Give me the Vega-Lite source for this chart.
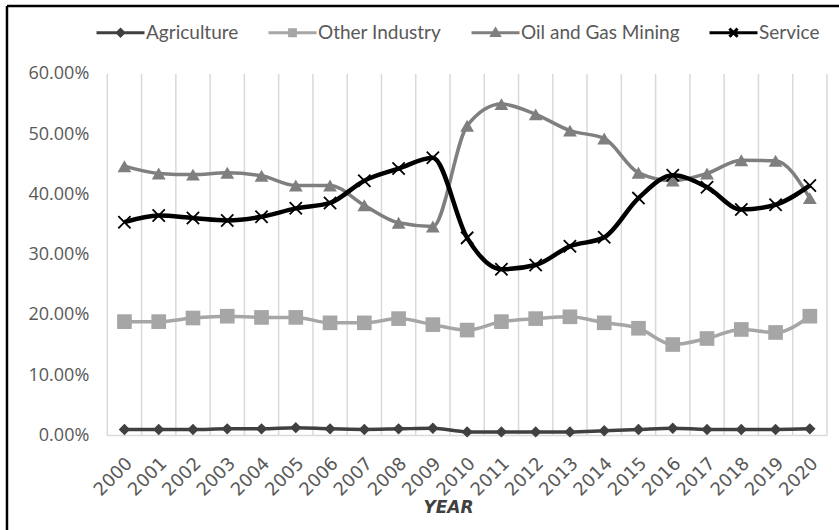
{
  "$schema": "https://vega.github.io/schema/vega-lite/v6.json",
  "width": 839,
  "height": 530,
  "autosize": {"type": "none"},
  "padding": 0,
  "background": "white",
  "config": {"view": {"stroke": null}},
  "datasets": {
    "d": [
      {"year": 2000, "series": "Agriculture", "value": 0.010},
      {"year": 2001, "series": "Agriculture", "value": 0.010},
      {"year": 2002, "series": "Agriculture", "value": 0.010},
      {"year": 2003, "series": "Agriculture", "value": 0.011},
      {"year": 2004, "series": "Agriculture", "value": 0.011},
      {"year": 2005, "series": "Agriculture", "value": 0.013},
      {"year": 2006, "series": "Agriculture", "value": 0.011},
      {"year": 2007, "series": "Agriculture", "value": 0.010},
      {"year": 2008, "series": "Agriculture", "value": 0.011},
      {"year": 2009, "series": "Agriculture", "value": 0.012},
      {"year": 2010, "series": "Agriculture", "value": 0.006},
      {"year": 2011, "series": "Agriculture", "value": 0.006},
      {"year": 2012, "series": "Agriculture", "value": 0.006},
      {"year": 2013, "series": "Agriculture", "value": 0.006},
      {"year": 2014, "series": "Agriculture", "value": 0.008},
      {"year": 2015, "series": "Agriculture", "value": 0.010},
      {"year": 2016, "series": "Agriculture", "value": 0.012},
      {"year": 2017, "series": "Agriculture", "value": 0.010},
      {"year": 2018, "series": "Agriculture", "value": 0.010},
      {"year": 2019, "series": "Agriculture", "value": 0.010},
      {"year": 2020, "series": "Agriculture", "value": 0.011},
      {"year": 2000, "series": "Other Industry", "value": 0.189},
      {"year": 2001, "series": "Other Industry", "value": 0.189},
      {"year": 2002, "series": "Other Industry", "value": 0.195},
      {"year": 2003, "series": "Other Industry", "value": 0.198},
      {"year": 2004, "series": "Other Industry", "value": 0.196},
      {"year": 2005, "series": "Other Industry", "value": 0.196},
      {"year": 2006, "series": "Other Industry", "value": 0.187},
      {"year": 2007, "series": "Other Industry", "value": 0.187},
      {"year": 2008, "series": "Other Industry", "value": 0.194},
      {"year": 2009, "series": "Other Industry", "value": 0.184},
      {"year": 2010, "series": "Other Industry", "value": 0.175},
      {"year": 2011, "series": "Other Industry", "value": 0.189},
      {"year": 2012, "series": "Other Industry", "value": 0.194},
      {"year": 2013, "series": "Other Industry", "value": 0.197},
      {"year": 2014, "series": "Other Industry", "value": 0.187},
      {"year": 2015, "series": "Other Industry", "value": 0.178},
      {"year": 2016, "series": "Other Industry", "value": 0.151},
      {"year": 2017, "series": "Other Industry", "value": 0.161},
      {"year": 2018, "series": "Other Industry", "value": 0.176},
      {"year": 2019, "series": "Other Industry", "value": 0.171},
      {"year": 2020, "series": "Other Industry", "value": 0.198},
      {"year": 2000, "series": "Oil and Gas Mining", "value": 0.447},
      {"year": 2001, "series": "Oil and Gas Mining", "value": 0.435},
      {"year": 2002, "series": "Oil and Gas Mining", "value": 0.433},
      {"year": 2003, "series": "Oil and Gas Mining", "value": 0.436},
      {"year": 2004, "series": "Oil and Gas Mining", "value": 0.431},
      {"year": 2005, "series": "Oil and Gas Mining", "value": 0.415},
      {"year": 2006, "series": "Oil and Gas Mining", "value": 0.415},
      {"year": 2007, "series": "Oil and Gas Mining", "value": 0.382},
      {"year": 2008, "series": "Oil and Gas Mining", "value": 0.353},
      {"year": 2009, "series": "Oil and Gas Mining", "value": 0.347},
      {"year": 2010, "series": "Oil and Gas Mining", "value": 0.514},
      {"year": 2011, "series": "Oil and Gas Mining", "value": 0.550},
      {"year": 2012, "series": "Oil and Gas Mining", "value": 0.533},
      {"year": 2013, "series": "Oil and Gas Mining", "value": 0.506},
      {"year": 2014, "series": "Oil and Gas Mining", "value": 0.493},
      {"year": 2015, "series": "Oil and Gas Mining", "value": 0.436},
      {"year": 2016, "series": "Oil and Gas Mining", "value": 0.423},
      {"year": 2017, "series": "Oil and Gas Mining", "value": 0.435},
      {"year": 2018, "series": "Oil and Gas Mining", "value": 0.457},
      {"year": 2019, "series": "Oil and Gas Mining", "value": 0.456},
      {"year": 2020, "series": "Oil and Gas Mining", "value": 0.394},
      {"year": 2000, "series": "Service", "value": 0.354},
      {"year": 2001, "series": "Service", "value": 0.365},
      {"year": 2002, "series": "Service", "value": 0.361},
      {"year": 2003, "series": "Service", "value": 0.357},
      {"year": 2004, "series": "Service", "value": 0.363},
      {"year": 2005, "series": "Service", "value": 0.377},
      {"year": 2006, "series": "Service", "value": 0.386},
      {"year": 2007, "series": "Service", "value": 0.423},
      {"year": 2008, "series": "Service", "value": 0.443},
      {"year": 2009, "series": "Service", "value": 0.461},
      {"year": 2010, "series": "Service", "value": 0.328},
      {"year": 2011, "series": "Service", "value": 0.276},
      {"year": 2012, "series": "Service", "value": 0.283},
      {"year": 2013, "series": "Service", "value": 0.314},
      {"year": 2014, "series": "Service", "value": 0.329},
      {"year": 2015, "series": "Service", "value": 0.394},
      {"year": 2016, "series": "Service", "value": 0.432},
      {"year": 2017, "series": "Service", "value": 0.412},
      {"year": 2018, "series": "Service", "value": 0.375},
      {"year": 2019, "series": "Service", "value": 0.383},
      {"year": 2020, "series": "Service", "value": 0.415}
    ],
    "grid": [
      {"b": 1999.5}, {"b": 2000.5}, {"b": 2001.5}, {"b": 2002.5}, {"b": 2003.5}, {"b": 2004.5},
      {"b": 2005.5}, {"b": 2006.5}, {"b": 2007.5}, {"b": 2008.5}, {"b": 2009.5}, {"b": 2010.5},
      {"b": 2011.5}, {"b": 2012.5}, {"b": 2013.5}, {"b": 2014.5}, {"b": 2015.5}, {"b": 2016.5},
      {"b": 2017.5}, {"b": 2018.5}, {"b": 2019.5}, {"b": 2020.5}
    ],
    "one": [{"k": 1}]
  },
  "layer": [
    {
      "data": {"name": "d"},
      "transform": [{"filter": "false"}],
      "mark": {"type": "point", "filled": false, "size": 2304, "strokeWidth": 3, "opacity": 1},
      "encoding": {
        "color": {
          "field": "series", "type": "nominal",
          "scale": {"domain": ["Agriculture", "Other Industry", "Oil and Gas Mining", "Service"], "range": ["#404040", "#a6a6a6", "#7f7f7f", "#000000"]},
          "legend": {"orient": "none", "legendX": 95, "legendY": 7, "direction": "horizontal", "title": null,
            "symbolSize": 2304, "symbolStrokeWidth": 3, "labelFont": "Lato", "labelFontSize": 19,
            "labelColor": "#595959", "columnPadding": 23, "labelOffset": 0}
        },
        "shape": {
          "field": "series", "type": "nominal",
          "scale": {
            "domain": ["Agriculture", "Other Industry", "Oil and Gas Mining", "Service"],
            "range": [
              "M-1,0L1,0M0,-0.13L0.13,0L0,0.13L-0.13,0ZM0,-0.08L0,0.08",
              "M-1,0L1,0M-0.12,-0.12L0.12,-0.12L0.12,0.12L-0.12,0.12ZM-0.06,-0.06L0.06,0.06",
              "M-1,0L1,0M0,-0.14L0.15,0.11L-0.15,0.11ZM0,-0.07L0,0.1",
              "M-1,0L1,0M-0.17,-0.17L0.17,0.17M-0.17,0.17L0.17,-0.17"
            ]
          },
          "legend": {"orient": "none", "legendX": 95, "legendY": 7, "direction": "horizontal", "title": null,
            "symbolSize": 2304, "symbolStrokeWidth": 3, "labelFont": "Lato", "labelFontSize": 19,
            "labelColor": "#595959", "columnPadding": 23, "labelOffset": 0}
        }
      }
    },
    {
      "data": {"name": "grid"},
      "mark": {"type": "rule", "color": "#d9d9d9", "strokeWidth": 1.5},
      "encoding": {
        "x": {"field": "b", "type": "quantitative", "scale": {"domain": [1996.369, 2020.851], "nice": false, "zero": false}},
        "y": {"datum": 0, "type": "quantitative", "scale": {"domain": [-0.15685, 0.72282], "nice": false, "zero": false}},
        "y2": {"datum": 0.6}
      }
    },
    {
      "data": {"name": "one"},
      "mark": {"type": "rule", "color": "#d9d9d9", "strokeWidth": 1.5},
      "encoding": {
        "x": {"datum": 1999.5, "type": "quantitative"},
        "x2": {"datum": 2020.5},
        "y": {"datum": 0, "type": "quantitative"}
      }
    },
    {
      "data": {"name": "one"},
      "mark": {"type": "rule", "color": "#000000", "strokeWidth": 2.5},
      "encoding": {
        "x": {"datum": 1996.573, "type": "quantitative"},
        "y": {"datum": -0.15685, "type": "quantitative"},
        "y2": {"datum": 0.71286}
      }
    },
    {
      "data": {"name": "one"},
      "mark": {"type": "rule", "color": "#000000", "strokeWidth": 2.5},
      "encoding": {
        "x": {"datum": 1996.573, "type": "quantitative"},
        "x2": {"datum": 2020.851},
        "y": {"datum": 0.71286, "type": "quantitative"}
      }
    },
    {
      "data": {"name": "d"},
      "transform": [{"filter": "datum.series !== 'Service'"}],
      "mark": {"type": "line", "interpolate": "monotone", "strokeWidth": 3.5},
      "encoding": {
        "x": {
          "field": "year", "type": "quantitative",
          "scale": {"domain": [1996.369, 2020.851], "nice": false, "zero": false},
          "axis": {
            "orient": "bottom", "offset": -94.5,
            "values": [2000, 2001, 2002, 2003, 2004, 2005, 2006, 2007, 2008, 2009, 2010, 2011, 2012, 2013, 2014, 2015, 2016, 2017, 2018, 2019, 2020],
            "format": "d", "grid": false, "domain": false, "ticks": false, "tickSize": 0,
            "labelAngle": -45, "labelAlign": "right", "labelBaseline": "middle",
            "labelPadding": 25, "labelOffset": 5, "labelFlush": false, "labelOverlap": false,
            "labelFont": "DejaVu Sans", "labelFontSize": 18, "labelColor": "#595959",
            "title": "YEAR", "titleFont": "DejaVu Sans", "titleFontSize": 17, "titleFontWeight": "bold",
            "titleFontStyle": "italic", "titleColor": "#404040", "titleX": 448, "titleY": 72,
            "titleAlign": "center", "titleBaseline": "middle"
          }
        },
        "y": {
          "field": "value", "type": "quantitative",
          "scale": {"domain": [-0.15685, 0.72282], "nice": false, "zero": false},
          "axis": {
            "orient": "left", "offset": -107.3,
            "values": [0, 0.1, 0.2, 0.3, 0.4, 0.5, 0.6],
            "format": ".2%", "grid": false, "domain": false, "ticks": false, "tickSize": 0,
            "labelPadding": 18.5, "labelOverlap": false, "labelFlush": false,
            "labelFont": "Open Sans", "labelFontSize": 18, "labelColor": "#595959",
            "title": null
          }
        },
        "color": {"field": "series", "type": "nominal", "legend": null}
      }
    },
    {
      "data": {"name": "d"},
      "transform": [{"filter": "datum.series === 'Agriculture'"}],
      "mark": {"type": "point", "filled": true, "shape": "diamond", "size": 130, "opacity": 1},
      "encoding": {
        "x": {"field": "year", "type": "quantitative"},
        "y": {"field": "value", "type": "quantitative"},
        "color": {"field": "series", "type": "nominal", "legend": null}
      }
    },
    {
      "data": {"name": "d"},
      "transform": [{"filter": "datum.series === 'Other Industry'"}],
      "mark": {"type": "point", "filled": true, "shape": "square", "size": 215, "opacity": 1},
      "encoding": {
        "x": {"field": "year", "type": "quantitative"},
        "y": {"field": "value", "type": "quantitative"},
        "color": {"field": "series", "type": "nominal", "legend": null}
      }
    },
    {
      "data": {"name": "d"},
      "transform": [{"filter": "datum.series === 'Oil and Gas Mining'"}],
      "mark": {"type": "point", "filled": true, "shape": "triangle-up", "size": 190, "opacity": 1},
      "encoding": {
        "x": {"field": "year", "type": "quantitative"},
        "y": {"field": "value", "type": "quantitative"},
        "color": {"field": "series", "type": "nominal", "legend": null}
      }
    },
    {
      "data": {"name": "d"},
      "transform": [{"filter": "datum.series === 'Service'"}],
      "mark": {"type": "line", "interpolate": "monotone", "strokeWidth": 4.5},
      "encoding": {
        "x": {"field": "year", "type": "quantitative"},
        "y": {"field": "value", "type": "quantitative"},
        "color": {"field": "series", "type": "nominal", "legend": null}
      }
    },
    {
      "data": {"name": "d"},
      "transform": [{"filter": "datum.series === 'Service'"}],
      "mark": {"type": "point", "filled": false, "shape": "M-1,-1L1,1M-1,1L1,-1", "size": 150, "strokeWidth": 1.8, "opacity": 1},
      "encoding": {
        "x": {"field": "year", "type": "quantitative"},
        "y": {"field": "value", "type": "quantitative"},
        "color": {"field": "series", "type": "nominal", "legend": null}
      }
    }
  ]
}
